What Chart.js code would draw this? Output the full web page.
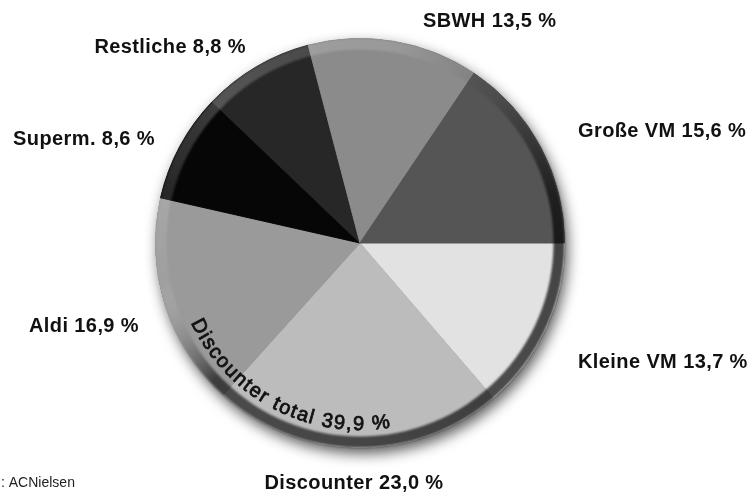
<!DOCTYPE html>
<html><head><meta charset="utf-8">
<script src="https://cdn.jsdelivr.net/npm/chart.js@4/dist/chart.umd.min.js"></script>
<style>html,body{margin:0;padding:0;background:#fff;}#wrap{width:754px;height:493px;position:relative;}</style>
</head><body><div id="wrap"><canvas id="c" width="754" height="493"></canvas></div>
<script>
// ---- data ----
const categories = ['Kleine VM', 'Discounter', 'Aldi', 'Superm.', 'Restliche', 'SBWH', 'Große VM'];
const shares = [13.7, 23.0, 16.9, 8.6, 8.8, 13.5, 15.6];
const sliceColors = ['#e2e2e2', '#bcbcbc', '#9a9a9a', '#060606', '#272727', '#8b8b8b', '#555555'];
const groupLabel = 'Discounter total';
const groupMembers = ['Discounter', 'Aldi'];
const sourceText = ': ACNielsen';

// ---- layout (text placement only) ----
const labelLayout = [
  {x: 578, y: 368, align: 'left'},
  {x: 354, y: 489, align: 'center'},
  {x: 139, y: 332, align: 'right'},
  {x: 155, y: 145, align: 'right'},
  {x: 246, y: 53,  align: 'right'},
  {x: 423, y: 27,  align: 'left'},
  {x: 578, y: 137, align: 'left'}
];
const FONT = '"Liberation Sans", Arial, Helvetica, sans-serif';
const fmt = v => v.toFixed(1).replace('.', ',') + ' %';

const shadowPlugin = {
  id: 'shadow',
  beforeDatasetsDraw(chart) {
    const a = chart.getDatasetMeta(0).data[0];
    const ctx = chart.ctx;
    ctx.save();
    ctx.shadowColor = 'rgba(0,0,0,0.65)';
    ctx.shadowBlur = 14;
    ctx.shadowOffsetX = 3;
    ctx.shadowOffsetY = 6;
    ctx.beginPath();
    ctx.arc(a.x, a.y, a.outerRadius, 0, Math.PI * 2);
    ctx.fillStyle = '#333';
    ctx.fill();
    ctx.restore();
  },
  afterDatasetsDraw(chart) {
    const a = chart.getDatasetMeta(0).data[0];
    const ctx = chart.ctx;
    const x = a.x, y = a.y, R = a.outerRadius;
    ctx.save();
    const g = ctx.createConicGradient(0, x, y);
    g.addColorStop(0, 'rgba(0,0,0,0.7)');
    g.addColorStop(0.38, 'rgba(0,0,0,0.6)');
    g.addColorStop(0.47, 'rgba(255,255,255,0.06)');
    g.addColorStop(0.62, 'rgba(255,255,255,0.22)');
    g.addColorStop(0.78, 'rgba(255,255,255,0.12)');
    g.addColorStop(0.87, 'rgba(0,0,0,0.1)');
    g.addColorStop(0.96, 'rgba(0,0,0,0.62)');
    g.addColorStop(1, 'rgba(0,0,0,0.7)');
    ctx.filter = 'blur(0.8px)';
    ctx.beginPath();
    ctx.arc(x, y, R, 0, Math.PI * 2);
    ctx.arc(x, y, R - 11, 0, Math.PI * 2, true);
    ctx.fillStyle = g;
    ctx.fill('evenodd');
    ctx.restore();
  },
  afterDraw(chart) {
    const ctx = chart.ctx;
    const a = chart.getDatasetMeta(0).data[0];
    const cx = a.x, cy = a.y;
    ctx.save();
    // outside labels
    ctx.fillStyle = '#111';
    ctx.font = 'bold 20px ' + FONT;
    ctx.letterSpacing = '0.4px';
    ctx.textBaseline = 'alphabetic';
    categories.forEach((c, i) => {
      const L = labelLayout[i];
      ctx.textAlign = L.align;
      ctx.fillText(c + ' ' + fmt(shares[i]), L.x, L.y);
    });
    // curved group label
    const total = groupMembers.reduce((s, m) => s + shares[categories.indexOf(m)], 0);
    const txt = groupLabel + ' ' + fmt(total);
    ctx.font = '20px ' + FONT;
    ctx.letterSpacing = '0px';
    ctx.textAlign = 'center';
    ctx.lineWidth = 0.8;
    ctx.strokeStyle = '#111';
    const r = 187;
    const spacing = 1.6;
    let theta = 155 * Math.PI / 180;
    for (const ch of txt) {
      const w = ctx.measureText(ch).width + spacing;
      const tc = theta - (w / 2) / r;
      ctx.save();
      ctx.translate(cx + r * Math.cos(tc), cy + r * Math.sin(tc));
      ctx.rotate(tc - Math.PI / 2);
      ctx.fillText(ch, 0, 0);
      ctx.strokeText(ch, 0, 0);
      ctx.restore();
      theta -= w / r;
    }
    // source
    ctx.font = '14px ' + FONT;
    ctx.textAlign = 'left';
    ctx.fillStyle = '#222';
    ctx.fillText(sourceText, 1, 487);
    ctx.restore();
  }
};

new Chart(document.getElementById('c'), {
  type: 'pie',
  data: {
    labels: categories,
    datasets: [{
      data: shares,
      backgroundColor: sliceColors,
      borderColor: sliceColors,
      borderWidth: 1
    }]
  },
  options: {
    responsive: false,
    devicePixelRatio: 1,
    animation: false,
    rotation: 90,
    layout: {padding: {left: 155, right: 189, top: 38, bottom: 45}},
    plugins: {legend: {display: false}, tooltip: {enabled: false}}
  },
  plugins: [shadowPlugin]
});
</script>
</body></html>
